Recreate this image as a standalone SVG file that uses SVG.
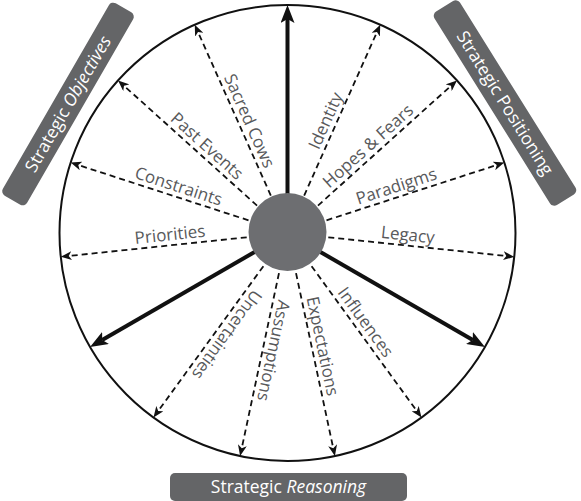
<svg xmlns="http://www.w3.org/2000/svg" width="581" height="501" viewBox="0 0 581 501">
<defs>
<style>
.ring{fill:none;stroke:#111;stroke-width:2}
.dash{stroke:#111;stroke-width:1.8;stroke-dasharray:6 4;fill:none;marker-end:url(#ah)}
.thick{stroke:#111;stroke-width:4;fill:none;marker-end:url(#ahb)}
.lbl{font-family:"Open Sans","Liberation Sans",sans-serif;font-size:17px;fill:#58595b;text-anchor:middle}
.box{fill:#646567}
.btxt{font-family:"Open Sans","Liberation Sans",sans-serif;font-size:17.5px;fill:#ffffff;text-anchor:middle}
.it{font-style:italic}
</style>
<marker id="ah" viewBox="0 0 11 9" markerWidth="11" markerHeight="9" refX="3" refY="4.5" orient="auto" markerUnits="userSpaceOnUse">
<path d="M0,0 L11,4.5 L0,9 L3,4.5 Z" fill="#111"/>
</marker>
<marker id="ahb" viewBox="0 0 18 14" markerWidth="18" markerHeight="14" refX="4" refY="7" orient="auto" markerUnits="userSpaceOnUse">
<path d="M0,0 L18,7 L0,14 L4,7 Z" fill="#111"/>
</marker>
</defs>
<rect width="581" height="501" fill="#ffffff"/>
<g id="ring"><circle class="ring" cx="287.5" cy="233" r="228"/></g>
<g id="connectors" transform="translate(287.5 233)">
<line class="thick" x1="36" y1="0" x2="214" y2="0" transform="rotate(-90)"/>
<line class="thick" x1="36" y1="0" x2="214" y2="0" transform="rotate(150)"/>
<line class="thick" x1="36" y1="0" x2="214" y2="0" transform="rotate(30)"/>
<line class="dash" x1="41" y1="0" x2="220" y2="0" transform="rotate(-114)"/>
<line class="dash" x1="41" y1="0" x2="220" y2="0" transform="rotate(-138)"/>
<line class="dash" x1="41" y1="0" x2="220" y2="0" transform="rotate(-162)"/>
<line class="dash" x1="41" y1="0" x2="220" y2="0" transform="rotate(-186)"/>
<line class="dash" x1="41" y1="0" x2="220" y2="0" transform="rotate(-66)"/>
<line class="dash" x1="41" y1="0" x2="220" y2="0" transform="rotate(-42)"/>
<line class="dash" x1="41" y1="0" x2="220" y2="0" transform="rotate(-18)"/>
<line class="dash" x1="41" y1="0" x2="220" y2="0" transform="rotate(6)"/>
<line class="dash" x1="41" y1="0" x2="220" y2="0" transform="rotate(126)"/>
<line class="dash" x1="41" y1="0" x2="220" y2="0" transform="rotate(102)"/>
<line class="dash" x1="41" y1="0" x2="220" y2="0" transform="rotate(78)"/>
<line class="dash" x1="41" y1="0" x2="220" y2="0" transform="rotate(54)"/>
</g>
<g id="hub"><circle cx="287.5" cy="232" r="39" fill="#6d6e71"/></g>
<g id="labels" transform="translate(287.5 233)">
<g id="sacred-cows"><text class="lbl" x="-118" y="-5" transform="rotate(66)">Sacred Cows</text></g>
<g id="past-events"><text class="lbl" x="-118" y="-5" transform="rotate(42)">Past Events</text></g>
<g id="constraints"><text class="lbl" x="-118" y="-5" transform="rotate(18)">Constraints</text></g>
<g id="priorities"><text class="lbl" x="-117" y="-5" transform="rotate(-6)">Priorities</text></g>
<g id="identity"><text class="lbl" x="118" y="-5" transform="rotate(-66)">Identity</text></g>
<g id="hopes-fears"><text class="lbl" x="118" y="-5" transform="rotate(-42)">Hopes &amp; Fears</text></g>
<g id="paradigms"><text class="lbl" x="118" y="-5" transform="rotate(-18)">Paradigms</text></g>
<g id="legacy"><text class="lbl" x="120" y="-5" transform="rotate(6)">Legacy</text></g>
<g id="uncertainties"><text class="lbl" x="118" y="-5" transform="rotate(126)">Uncertainties</text></g>
<g id="assumptions"><text class="lbl" x="118" y="-5" transform="rotate(102)">Assumptions</text></g>
<g id="expectations"><text class="lbl" x="118" y="-5" transform="rotate(78)">Expectations</text></g>
<g id="influences"><text class="lbl" x="118" y="-5" transform="rotate(54)">Influences</text></g>
</g>
<g id="strategic-objectives" transform="translate(68 104) rotate(-60)">
<rect class="box" x="-111" y="-14" width="222" height="28" rx="5"/>
<text class="btxt" x="0" y="6">Strategic <tspan class="it">Objectives</tspan></text>
</g>
<g id="strategic-positioning" transform="translate(505 103) rotate(58)">
<rect class="box" x="-114" y="-15" width="228" height="30" rx="5"/>
<text class="btxt" x="0" y="6">Strategic Positioning</text>
</g>
<g id="strategic-reasoning">
<rect class="box" x="170" y="473" width="237" height="28" rx="5"/>
<text class="btxt" x="288.5" y="493">Strategic <tspan class="it">Reasoning</tspan></text>
</g>
</svg>
